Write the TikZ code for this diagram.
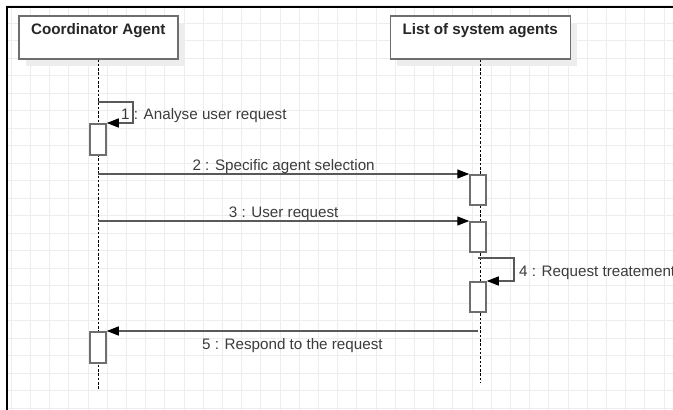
\documentclass[tikz,border=0pt]{standalone}
\usepackage{fontspec}
\setmainfont{Liberation Sans}
\usetikzlibrary{arrows.meta, positioning, shadows}
\definecolor{linegray}{HTML}{595959}
\definecolor{boxgray}{HTML}{6E6E6E}
\definecolor{textgray}{HTML}{3C3C3C}
\definecolor{gridgray}{HTML}{EDEDED}

\begin{document}
\begin{tikzpicture}[x=1pt, y=-1pt,
  head/.style={draw=boxgray, line width=1.5pt, fill=white, anchor=north west, minimum width=#1,
    inner ysep=4pt, text height=15pt, text depth=20pt, text=black!85,
    font=\fontsize{15.2pt}{18pt}\selectfont\bfseries,
    drop shadow={shadow xshift=7pt, shadow yshift=-7pt, fill=black!7, opacity=1}},
  lifeline/.style={draw=black, line width=1pt, dash pattern=on 2.5pt off 1.8pt},
  act/.style={draw=boxgray, line width=1.5pt, fill=white, anchor=north, minimum width=16pt,
    minimum height=#1, inner sep=0pt},
  msg/.style={draw=linegray, line width=1.3pt, -{Triangle[length=12pt, width=9pt, color=black]}},
  lbl/.style={font=\fontsize{15.2pt}{18pt}\selectfont, text=textgray, inner sep=0pt},
  gridline/.style={draw=gridgray, line width=1pt},
]
  \useasboundingbox (0,0) rectangle (673,410);
  \clip (0,0) rectangle (673,410);
  \foreach \gx in {0,...,34} \draw[gridline] ({11.2+19.2*\gx},6) -- ++(0,404);
  \foreach \gy in {0,...,23} \draw[gridline] (6,{5.5+17.5*\gy}) -- (673,{5.5+17.5*\gy});
  \draw[line width=2pt] (6.5,410) -- (6.5,6.5) -- (673,6.5);

  \node[head=159pt] (coord) at (18,15) {Coordinator Agent};
  \node[head=180pt, right=211pt of coord] (list) {List of system agents};
  \draw[lifeline] (coord.south) -- ++(0,330);
  \draw[lifeline] (list.south) -- ++(0,323);

  \node[act=31pt] (act1) at (98,123) {};
  \node[act=30pt] (act2) at (478,174) {};
  \node[act=30pt] (act3) at (478,221) {};
  \node[act=30pt] (act4) at (478,281) {};
  \node[act=31pt] (act5) at (98,331) {};

  \coordinate (m1) at (98,102);
  \coordinate (m2) at (98,174);
  \coordinate (m3) at (98,221);
  \coordinate (m4) at (478,258);
  \coordinate (m5) at (478,331);
  \draw[msg] (m1) -- ++(35,0) |- (act1.north east);
  \node[lbl, anchor=base west] (l1) at (121,119) {1 : Analyse user request};
  \draw[msg] (m2) -- (act2.north west)
    node[lbl, midway, anchor=base, yshift=4pt] (l2) {2 : Specific agent selection};
  \draw[msg] (m3) -- (act3.north west)
    node[lbl, midway, anchor=base, yshift=4pt] (l3) {3 : User request};
  \draw[msg] (m4) -- ++(36,0) |- (act4.north east);
  \node[lbl, anchor=base west] (l4) at (519,276) {4 : Request treatement};
  \draw[msg] (m5) -- (act5.north east)
    node[lbl, midway, anchor=base, yshift=-18pt] (l5) {5 : Respond to the request};
\end{tikzpicture}
\end{document}
